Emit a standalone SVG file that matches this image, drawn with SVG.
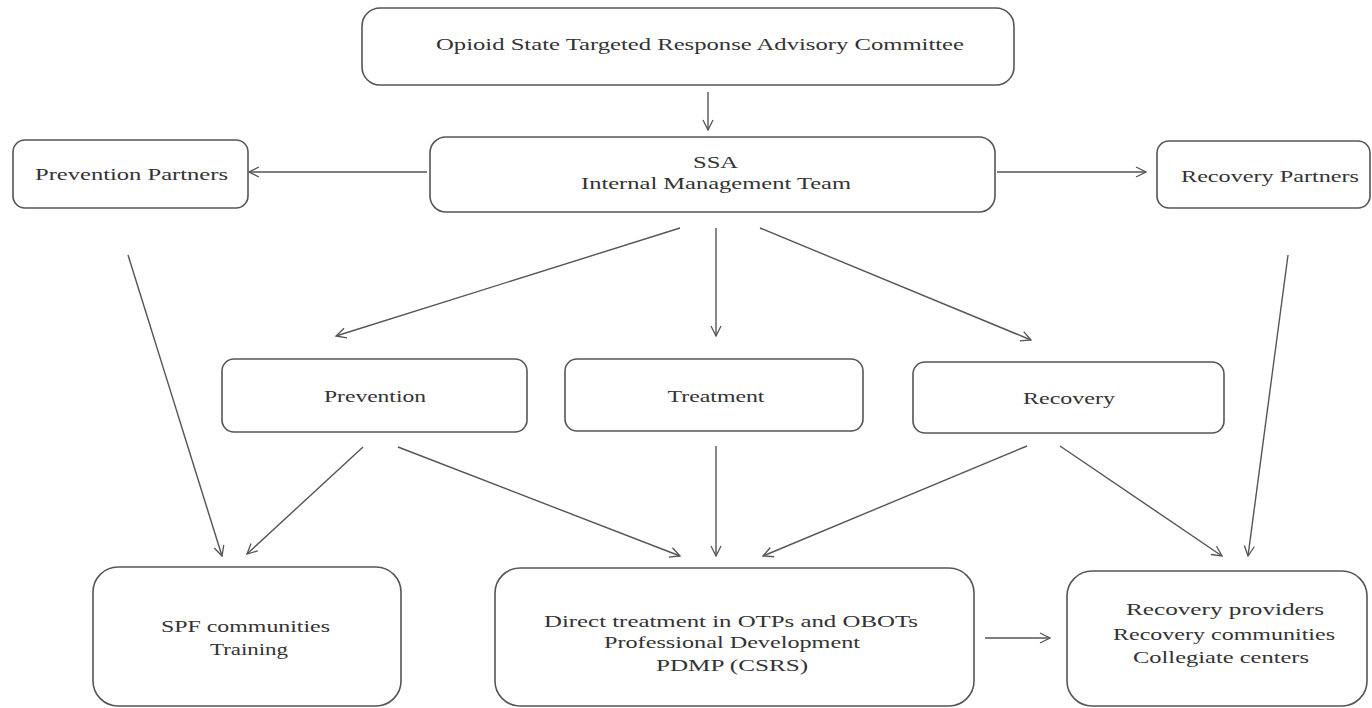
<svg xmlns="http://www.w3.org/2000/svg" width="1372" height="708" viewBox="0 0 1372 708">
<defs>
<marker id="ah" viewBox="0 0 12 12" refX="11" refY="6" markerWidth="12" markerHeight="12" markerUnits="userSpaceOnUse" orient="auto">
<path d="M1,1 L11,6 L1,11" fill="none" stroke="#555" stroke-width="1.3"/>
</marker>
<style>
.box{fill:#fff;stroke:#555;stroke-width:1.6}
.t{font-family:"Liberation Serif","Times New Roman",serif;font-size:16px;fill:#333;text-anchor:middle}
.c{fill:none;stroke:#555;stroke-width:1.4;marker-end:url(#ah)}
</style>
</defs>
<rect width="1372" height="708" fill="#fff"/>
<g id="connectors">
<line class="c" x1="708" y1="92" x2="708" y2="130"/>
<line class="c" x1="427" y1="172" x2="249" y2="172"/>
<line class="c" x1="997" y1="172" x2="1146" y2="172"/>
<line class="c" x1="680" y1="228" x2="336" y2="336"/>
<line class="c" x1="716" y1="228" x2="716" y2="336"/>
<line class="c" x1="760" y1="228" x2="1031" y2="340"/>
<line class="c" x1="128" y1="255" x2="222" y2="556"/>
<line class="c" x1="1288" y1="255" x2="1248" y2="556"/>
<line class="c" x1="363" y1="447" x2="247" y2="554"/>
<line class="c" x1="398" y1="447" x2="680" y2="556"/>
<line class="c" x1="716" y1="446" x2="716" y2="556"/>
<line class="c" x1="1027" y1="446" x2="763" y2="556"/>
<line class="c" x1="1060" y1="446" x2="1222" y2="556"/>
<line class="c" x1="985" y1="638" x2="1050" y2="638"/>
</g>
<g id="committee">
<rect class="box" x="362" y="8" width="652" height="77" rx="18"/>
<text class="t" x="700" y="50" textLength="528" lengthAdjust="spacingAndGlyphs">Opioid State Targeted Response Advisory Committee</text>
</g>
<g id="ssa">
<rect class="box" x="430" y="137" width="565" height="75" rx="16"/>
<text class="t" x="715.5" y="168" textLength="45" lengthAdjust="spacingAndGlyphs">SSA</text>
<text class="t" x="716" y="189" textLength="270" lengthAdjust="spacingAndGlyphs">Internal Management Team</text>
</g>
<g id="prevention-partners">
<rect class="box" x="13" y="140" width="235" height="68" rx="12"/>
<text class="t" x="131.5" y="180" textLength="193" lengthAdjust="spacingAndGlyphs">Prevention Partners</text>
</g>
<g id="recovery-partners">
<rect class="box" x="1157" y="141" width="213" height="67" rx="12"/>
<text class="t" x="1270" y="182" textLength="178" lengthAdjust="spacingAndGlyphs">Recovery Partners</text>
</g>
<g id="prevention">
<rect class="box" x="222" y="359" width="305" height="73" rx="12"/>
<text class="t" x="375" y="402" textLength="102" lengthAdjust="spacingAndGlyphs">Prevention</text>
</g>
<g id="treatment">
<rect class="box" x="565" y="359" width="298" height="72" rx="12"/>
<text class="t" x="716" y="402" textLength="97" lengthAdjust="spacingAndGlyphs">Treatment</text>
</g>
<g id="recovery">
<rect class="box" x="913" y="362" width="311" height="71" rx="12"/>
<text class="t" x="1069" y="404" textLength="92" lengthAdjust="spacingAndGlyphs">Recovery</text>
</g>
<g id="spf">
<rect class="box" x="93" y="567" width="308" height="139" rx="25"/>
<text class="t" x="245.5" y="632" textLength="169" lengthAdjust="spacingAndGlyphs">SPF communities</text>
<text class="t" x="249" y="655" textLength="78" lengthAdjust="spacingAndGlyphs">Training</text>
</g>
<g id="direct-treatment">
<rect class="box" x="495" y="568" width="479" height="138" rx="25"/>
<text class="t" x="731" y="627" textLength="374" lengthAdjust="spacingAndGlyphs">Direct treatment in OTPs and OBOTs</text>
<text class="t" x="732" y="648" textLength="256" lengthAdjust="spacingAndGlyphs">Professional Development</text>
<text class="t" x="732" y="671" textLength="152" lengthAdjust="spacingAndGlyphs">PDMP (CSRS)</text>
</g>
<g id="recovery-providers">
<rect class="box" x="1067" y="571" width="300" height="135" rx="25"/>
<text class="t" x="1225" y="615" textLength="198" lengthAdjust="spacingAndGlyphs">Recovery providers</text>
<text class="t" x="1224" y="640" textLength="222" lengthAdjust="spacingAndGlyphs">Recovery communities</text>
<text class="t" x="1221" y="663" textLength="176" lengthAdjust="spacingAndGlyphs">Collegiate centers</text>
</g>
</svg>
